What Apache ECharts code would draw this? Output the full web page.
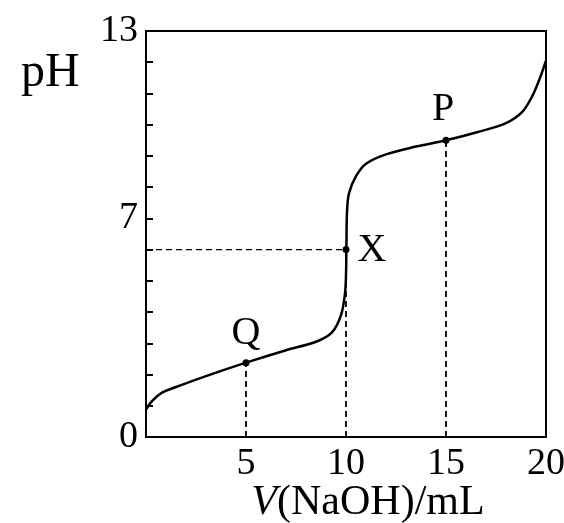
<!DOCTYPE html>
<html>
<head>
<meta charset="utf-8">
<script src="https://cdn.jsdelivr.net/npm/echarts@6/dist/echarts.min.js"></script>
<style>
  html, body { margin: 0; padding: 0; background: #fff; }
  #main { width: 564px; height: 523px; }
</style>
</head>
<body>
<div id="main"></div>
<script>
// titration curve
var volume = [0, 0.3, 0.8, 1.5, 3, 5, 7, 8.5, 9.3, 9.75, 9.95, 10.0, 10.02, 10.05, 10.15, 10.5, 11, 12, 13.5, 15, 16.5, 18, 18.8, 19.3, 19.7, 20];
var ph = [0.88, 1.15, 1.42, 1.6, 1.95, 2.38, 2.78, 3.05, 3.35, 3.9, 4.6, 5.2, 6.0, 7.2, 7.8, 8.35, 8.75, 9.05, 9.3, 9.5, 9.75, 10.05, 10.4, 10.9, 11.5, 12.05];

// marked points
var pointNames = ['Q', 'X', 'P'];
var pointV = [5, 10, 15];
var pointPH = [2.38, 6.0, 9.5];

var xTickLabels = [5, 10, 15, 20];
var yTickLabels = [0, 7, 13];

var font = '"Liberation Serif", "DejaVu Serif", serif';

var curve = volume.map(function (v, i) { return [v, ph[i]]; });

var labelOffsets = { Q: [0, -6], X: [26, 24], P: [-3, -7] };

var points = pointNames.map(function (n, i) {
  return {
    name: n,
    value: [pointV[i], pointPH[i]],
    label: { offset: labelOffsets[n] }
  };
});

// dashed guides: down to the x axis from every point, across to the y axis from X
var guides = [];
for (var i = 0; i < pointNames.length; i++) {
  guides.push([[pointV[i], 0], [pointV[i], pointPH[i]]]);
}
guides.push([[0, pointPH[1]], [pointV[1], pointPH[1]]]);

var series = [];
guides.forEach(function (g, k) {
  series.push({
    type: 'line',
    data: g,
    symbol: 'none',
    silent: true,
    lineStyle: { color: '#000', width: k < 3 ? 1.8 : 1.3, type: [6, 4] },
    z: 1
  });
});
series.push({
  type: 'line',
  data: curve,
  smooth: 0.35,
  symbol: 'none',
  lineStyle: { color: '#000', width: 2.5 },
  z: 3
});
series.push({
  type: 'scatter',
  data: points,
  symbolSize: 7,
  itemStyle: { color: '#000', opacity: 1 },
  label: {
    show: true,
    position: 'top',
    distance: 0,
    formatter: '{b}',
    color: '#000',
    fontFamily: font,
    fontSize: 40
  },
  z: 4
});

var chart = echarts.init(document.getElementById('main'));
chart.setOption({
  animation: false,
  backgroundColor: '#fff',
  grid: {
    left: 146, top: 31, width: 400, height: 406,
    outerBoundsMode: 'none',
    containLabel: false,
    show: true, borderColor: '#000', borderWidth: 2, backgroundColor: 'transparent'
  },
  graphic: [{
    type: 'text',
    left: 21, top: 49,
    style: { text: 'pH', fontFamily: font, fontSize: 48, fill: '#000' }
  }],
  xAxis: {
    type: 'value',
    min: 0, max: 20, interval: 5,
    name: '{i|V}(NaOH)/mL',
    nameLocation: 'middle',
    nameMoveOverlap: false,
    nameGap: 66,
    nameTextStyle: {
      fontFamily: font, fontSize: 42, color: '#000', padding: [0, 0, 0, 44],
      verticalAlign: 'middle',
      rich: { i: { fontFamily: font, fontSize: 42, fontStyle: 'italic', color: '#000' } }
    },
    axisLine: { lineStyle: { color: '#000', width: 2 } },
    axisTick: { show: false },
    splitLine: { show: false },
    axisLabel: {
      margin: 8,
      color: '#000', fontFamily: font, fontSize: 38,
      formatter: function (v) { return xTickLabels.indexOf(v) >= 0 ? String(v) : ''; }
    }
  },
  yAxis: {
    type: 'value',
    min: 0, max: 13, interval: 1,
    axisLine: { lineStyle: { color: '#000', width: 2 } },
    axisTick: { inside: true, length: 7, lineStyle: { color: '#000', width: 2 } },
    splitLine: { show: false },
    axisLabel: {
      margin: 8,
      color: '#000', fontFamily: font, fontSize: 38,
      formatter: function (v) { return yTickLabels.indexOf(v) >= 0 ? String(v) : ''; }
    }
  },
  series: series
});
</script>
</body>
</html>
